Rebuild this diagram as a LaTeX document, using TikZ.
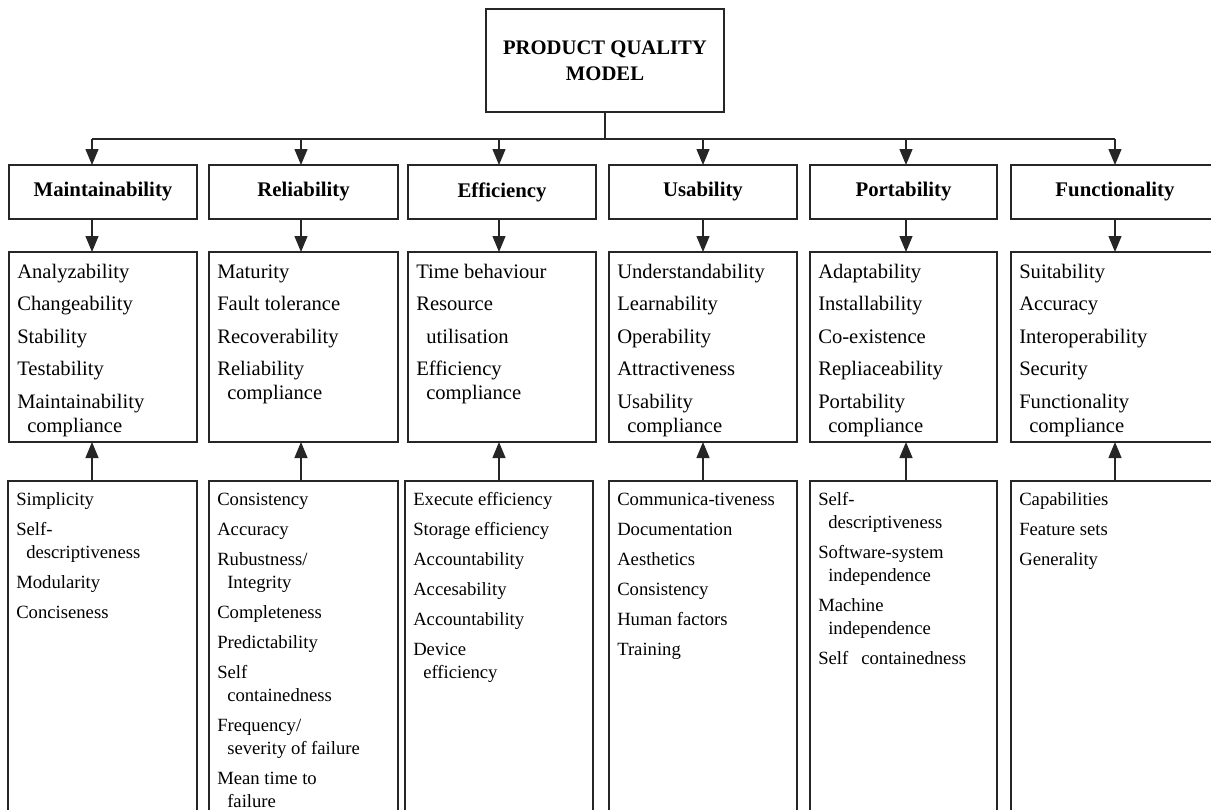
\documentclass[tikz,border=0pt]{standalone}
\usepackage{fontspec}
\setmainfont{Liberation Serif}
\usetikzlibrary{arrows.meta}
% next list item / hanging continuation line inside an attribute list
\newcommand\nxt{\\[\gap]}
\newcommand\wrp{\\\hspace*{7.5pt}}
\newcommand\firstln{\rule{0pt}{12pt}}
\begin{document}
\begin{tikzpicture}[x=0.75pt,y=-0.75pt,
  frame/.style={draw=black!85, line width=0.95pt, inner sep=0pt, outer sep=0pt},
  head/.style={frame, font=\fontsize{15.6}{18}\selectfont\bfseries, minimum height=40.5pt},
  panel/.style={frame, anchor=north west},
  conn/.style={draw=black!85, line width=0.95pt, -{Triangle[length=12pt,width=9.75pt]}},
  busline/.style={draw=black!85, line width=0.95pt},
  attr/.style={anchor=north west, inner sep=0pt, align=left,
    font=\fontsize{15.45}{18}\selectfont\def\gap{6.4pt}},
  metric/.style={anchor=north west, inner sep=0pt, align=left,
    font=\fontsize{14}{17.25}\selectfont\def\gap{5.25pt}},
]
\useasboundingbox (0,0) rectangle (1211,810);
\clip (0,0) rectangle (1211,810);

% root
\node[frame, minimum width=178.5pt, minimum height=77.25pt, align=center,
  font=\fontsize{15.5}{19.5}\selectfont\bfseries] (root) at (605,60.5)
  {PRODUCT QUALITY\\MODEL};

% quality characteristics
\node[head, minimum width=141pt]    (m1) at (103,192)   {Maintainability};
\node[head, minimum width=141.75pt] (m2) at (303.5,192) {Reliability};
\node[head, minimum width=141pt]    (m3) at (502,192)   {Efficiency};
\node[head, minimum width=141pt]    (m4) at (703,192)   {Usability};
\node[head, minimum width=140.25pt] (m5) at (903.5,192) {Portability};
\node[head, minimum width=156pt]    (m6) at (1115,192)  {Functionality};

% sub-characteristic panels
\node[panel, minimum width=141pt,    minimum height=142.5pt] (q1) at (9,252) {};
\node[panel, minimum width=141.75pt, minimum height=142.5pt] (q2) at (209,252) {};
\node[panel, minimum width=141pt,    minimum height=142.5pt] (q3) at (408,252) {};
\node[panel, minimum width=141pt,    minimum height=142.5pt] (q4) at (609,252) {};
\node[panel, minimum width=140.25pt, minimum height=142.5pt] (q5) at (810,252) {};
\node[panel, minimum width=156pt,    minimum height=142.5pt] (q6) at (1011,252) {};

\node[attr] (q1t) at (17,262)
  {\firstln Analyzability\nxt Changeability\nxt Stability\nxt Testability\nxt Maintainability\wrp compliance};
\node[attr] (q2t) at (217,262)
  {\firstln Maturity\nxt Fault tolerance\nxt Recoverability\nxt Reliability\wrp compliance};
\node[attr] (q3t) at (416,262)
  {\firstln Time behaviour\nxt Resource\nxt\hspace*{7.5pt}utilisation\nxt Efficiency\wrp compliance};
\node[attr] (q4t) at (617,262)
  {\firstln Understandability\nxt Learnability\nxt Operability\nxt Attractiveness\nxt Usability\wrp compliance};
\node[attr] (q5t) at (818,262)
  {\firstln Adaptability\nxt Installability\nxt Co-existence\nxt Repliaceability\nxt Portability\wrp compliance};
\node[attr] (q6t) at (1019,262)
  {\firstln Suitability\nxt Accuracy\nxt Interoperability\nxt Security\nxt Functionality\wrp compliance};

% metric panels (run past the lower edge)
\node[panel, minimum width=141.75pt, minimum height=261.75pt] (s1) at (8,481) {};
\node[panel, minimum width=141.75pt, minimum height=261.75pt] (s2) at (209,481) {};
\node[panel, minimum width=141pt,    minimum height=261.75pt] (s3) at (405,481) {};
\node[panel, minimum width=141pt,    minimum height=261.75pt] (s4) at (609,481) {};
\node[panel, minimum width=140.25pt, minimum height=261.75pt] (s5) at (810,481) {};
\node[panel, minimum width=156pt,    minimum height=261.75pt] (s6) at (1011,481) {};

\node[metric] (s1t) at (16,489.5)
  {\firstln Simplicity\nxt Self-\wrp descriptiveness\nxt Modularity\nxt Conciseness};
\node[metric] (s2t) at (217,489.5)
  {\firstln Consistency\nxt Accuracy\nxt Rubustness/\wrp Integrity\nxt Completeness\nxt Predictability\nxt Self\wrp containedness\nxt Frequency/\wrp severity of failure\nxt Mean time to\wrp failure};
\node[metric] (s3t) at (413,489.5)
  {\firstln Execute efficiency\nxt Storage efficiency\nxt Accountability\nxt Accesability\nxt Accountability\nxt Device\wrp efficiency};
\node[metric] (s4t) at (617,489.5)
  {\firstln Communica-tiveness\nxt Documentation\nxt Aesthetics\nxt Consistency\nxt Human factors\nxt Training};
\node[metric] (s5t) at (818,489.5)
  {\firstln Self-\wrp descriptiveness\nxt Software-system\wrp independence\nxt Machine\wrp independence\nxt Self\hspace{9.75pt}containedness};
\node[metric] (s6t) at (1019,489.5)
  {\firstln Capabilities\nxt Feature sets\nxt Generality};

% distribution bus from the root
\coordinate (a1) at (92,139);
\coordinate (a2) at (301,139);
\coordinate (a3) at (499,139);
\coordinate (a4) at (703,139);
\coordinate (a5) at (906,139);
\coordinate (a6) at (1115,139);
\draw[busline] (root.south) -- (root.south |- a1);
\draw[busline] (a1) -- (a6);

\foreach \i in {1,...,6}{
  \draw[conn] (a\i) -- (a\i |- m\i.north);
  \draw[conn] (a\i |- m\i.south) -- (a\i |- q\i.north);
  \draw[conn] (a\i |- s\i.north) -- (a\i |- q\i.south);
}
\end{tikzpicture}
\end{document}
